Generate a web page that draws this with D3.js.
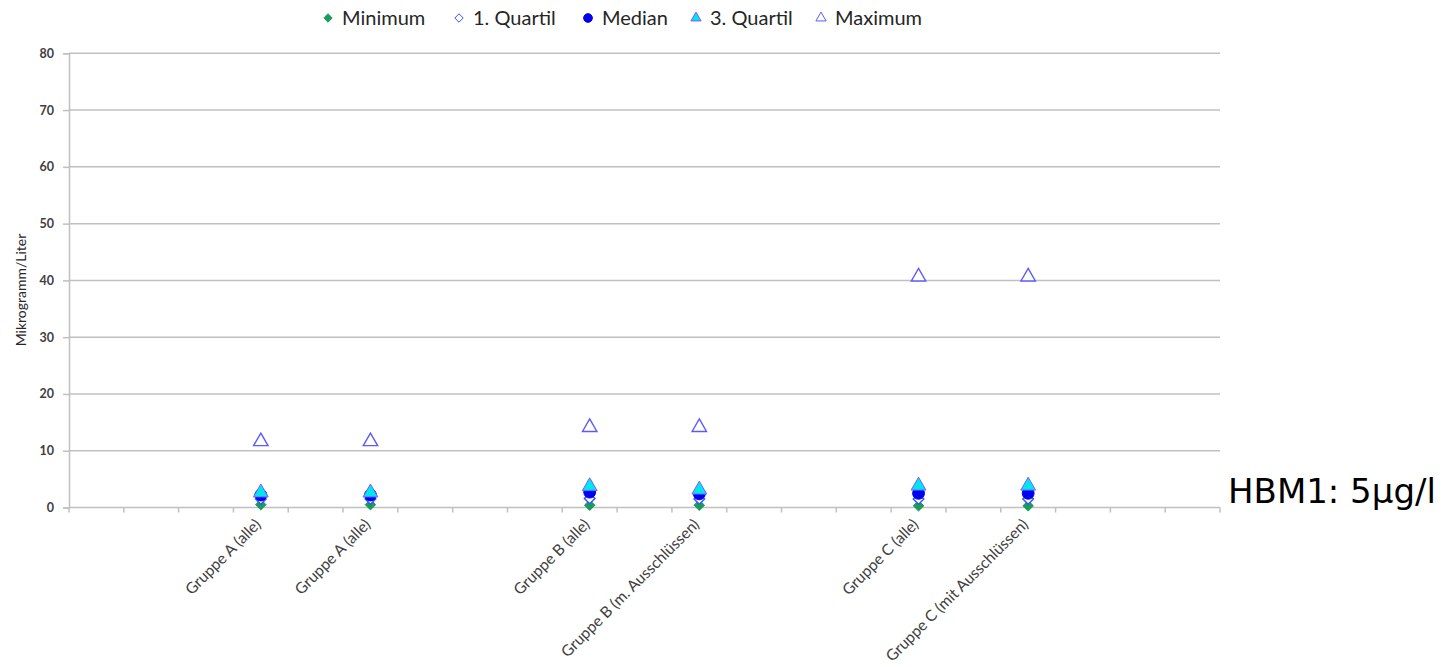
<!DOCTYPE html>
<html>
<head>
<meta charset="utf-8">
<script src="https://cdn.jsdelivr.net/npm/d3@7"></script>
<style>
  body { margin: 0; background: #fff; }
  svg { display: block; }
</style>
</head>
<body>
<svg id="chart" width="1443" height="667"></svg>
<script>
// Category slots along the x axis (empty strings are unlabeled gaps)
const categories = ["", "", "", "Gruppe A (alle)", "", "Gruppe A (alle)", "", "", "",
  "Gruppe B (alle)", "", "Gruppe B (m. Ausschlüssen)", "", "", "",
  "Gruppe C (alle)", "", "Gruppe C (mit Ausschlüssen)", "", "", ""];

// Values per labeled slot (µg/l)
const minimum   = [0.5, 0.5, 0.4, 0.4, 0.3, 0.3];
const quartil1  = [1.5, 1.5, 1.6, 1.5, 1.5, 1.5];
const median    = [2.2, 2.2, 2.7, 2.4, 2.5, 2.5];
const quartil3  = [3.0, 3.0, 4.1, 3.5, 4.2, 4.2];
const maximum   = [12, 12, 14.5, 14.5, 41, 41];

const yTicks = [0, 10, 20, 30, 40, 50, 60, 70, 80];
const seriesNames = ["Minimum", "1. Quartil", "Median", "3. Quartil", "Maximum"];
const annotation = "HBM1: 5µg/l";

const slotIdx = categories.map((c, i) => i).filter(i => categories[i] !== "");

const svg = d3.select("#chart");
const plotLeft = 69, plotRight = 1220, plotTop = 53.3, plotBottom = 507.5;
const font = "Lato, 'Open Sans', sans-serif";

const x = d3.scaleBand().domain(d3.range(categories.length)).range([plotLeft, plotRight]);
const y = d3.scaleLinear().domain([0, 80]).range([plotBottom, plotTop]);

const gridColor = "#c0c0c0";

// horizontal grid
svg.append("g").selectAll("line").data(yTicks.filter(t => t > 0)).join("line")
  .attr("x1", plotLeft).attr("x2", plotRight)
  .attr("y1", d => y(d)).attr("y2", d => y(d))
  .attr("stroke", gridColor).attr("stroke-width", 1.5);

// y axis
const yAxis = svg.append("g").attr("transform", `translate(${plotLeft},0)`)
  .call(d3.axisLeft(y).tickValues(yTicks).tickSize(6).tickPadding(9));
yAxis.select(".domain").attr("stroke", gridColor).attr("stroke-width", 1.5);
yAxis.selectAll(".tick line").attr("stroke", gridColor).attr("stroke-width", 1.5);
yAxis.selectAll(".tick text").attr("fill", "#404040")
  .style("font-family", font).style("font-size", "12.5px").style("font-weight", "bold");

// x axis with boundary ticks between slots
svg.append("line").attr("x1", plotLeft).attr("x2", plotRight).attr("y1", plotBottom).attr("y2", plotBottom)
  .attr("stroke", gridColor).attr("stroke-width", 1.5);
const bounds = d3.range(categories.length + 1).map(i => i < categories.length ? x(i) : plotRight);
svg.append("g").selectAll("line").data(bounds).join("line")
  .attr("x1", d => d).attr("x2", d => d)
  .attr("y1", plotBottom).attr("y2", plotBottom + 5)
  .attr("stroke", gridColor).attr("stroke-width", 1.5);

// category labels
svg.append("g").selectAll("text").data(slotIdx).join("text")
  .attr("transform", i => `translate(${x(i) + x.bandwidth() / 2 + 1},${plotBottom + 18}) rotate(-45)`)
  .attr("text-anchor", "end")
  .attr("fill", "#404040")
  .style("font-family", font).style("font-size", "15.5px")
  .text(i => categories[i]);

// y axis title
svg.append("text")
  .attr("transform", "translate(26,290) rotate(-90)")
  .attr("text-anchor", "middle")
  .attr("fill", "#262626")
  .style("font-family", font).style("font-size", "14px")
  .text("Mikrogramm/Liter");

// triangle centred on its bounding box (spreadsheet-style marker)
const boxTriangle = {
  draw(context, size) {
    const w = Math.sqrt(size) * 1.52, h = w * 0.87;
    context.moveTo(0, -h / 2);
    context.lineTo(w / 2, h / 2);
    context.lineTo(-w / 2, h / 2);
    context.closePath();
  }
};

// marker shapes
const sym = {
  diamond: d3.symbol().type(d3.symbolDiamond2).size(70)(),
  circle: d3.symbol().type(d3.symbolCircle).size(110)(),
  triQ3: d3.symbol().type(boxTriangle).size(95)(),
  triMax: d3.symbol().type(boxTriangle).size(90)()
};
const styles = [
  { data: minimum, path: sym.diamond, fill: "#1a9b5a", stroke: "#1a9b5a", sw: 1, legend: d3.symbolDiamond2 },
  { data: quartil1, path: sym.diamond, fill: "#ffffff", stroke: "#3355ff", sw: 1.5, legend: d3.symbolDiamond2 },
  { data: median, path: sym.circle, fill: "#0000f0", stroke: "#0000f0", sw: 1, legend: d3.symbolCircle },
  { data: quartil3, path: sym.triQ3, fill: "#00e5ee", stroke: "#7a5cff", sw: 1, legend: d3.symbolTriangle },
  { data: maximum, path: sym.triMax, fill: "#ffffff", stroke: "#5b5bff", sw: 1.4, legend: d3.symbolTriangle }
];

styles.forEach(s => {
  svg.append("g").selectAll("path").data(s.data).join("path")
    .attr("transform", (v, k) => `translate(${x(slotIdx[k]) + x.bandwidth() / 2},${y(v)})`)
    .attr("d", s.path)
    .attr("fill", s.fill).attr("stroke", s.stroke).attr("stroke-width", s.sw);
});

// legend
const legendX = [328, 459, 588, 696, 821];
const legend = svg.append("g");
styles.forEach((s, k) => {
  const g = legend.append("g").attr("transform", `translate(${legendX[k]},18)`);
  g.append("path").attr("d", d3.symbol().type(s.legend).size(k === 2 ? 60 : 45)())
    .attr("fill", s.fill).attr("stroke", s.stroke).attr("stroke-width", 1);
  g.append("text").attr("x", 14).attr("y", 7)
    .attr("fill", "#262626")
    .style("font-family", font).style("font-size", "20px")
    .text(seriesNames[k]);
});

// annotation on the right
svg.append("text").attr("x", 1228).attr("y", 503)
  .attr("fill", "#000")
  .style("font-family", "'DejaVu Sans', sans-serif").style("font-size", "34px")
  .text(annotation);
</script>
</body>
</html>
